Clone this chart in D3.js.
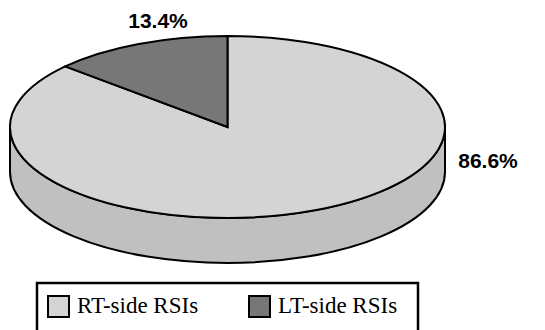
<!DOCTYPE html>
<html>
<head>
<meta charset="utf-8">
<script src="https://cdn.jsdelivr.net/npm/d3@7"></script>
<style>
  html, body { margin: 0; padding: 0; background: #fff; }
  svg { display: block; }
  .val { font-family: "Liberation Sans", Arial, Helvetica, sans-serif; font-weight: bold; font-size: 21px; }
  .leg { font-family: "Liberation Serif", "Times New Roman", Times, serif; font-size: 23px; }
</style>
</head>
<body>
<svg id="chart" width="545" height="330"></svg>
<script>
// Share of RSIs by side
const categories = ["RT-side RSIs", "LT-side RSIs"];
const values = [86.6, 13.4];
const valueLabels = ["86.6%", "13.4%"];

const topColors = ["#d4d4d4", "#777777"];
const sideColors = ["#c0c0c0", "#5e5e5e"];

const W = 545, H = 330;
const cx = 227.5, cy = 127, rx = 217.5, ry = 91, depth = 45;

const svg = d3.select("#chart");

const pie = d3.pie().sort(null).value(d => d.value);
const arcs = pie(categories.map((c, i) => ({ name: c, value: values[i], i })));

// projected point on the elliptical rim (angle 0 at top, clockwise)
const pt = (a, dy = 0) => [cx + rx * Math.sin(a), cy - ry * Math.cos(a) + dy];
const f = p => p[0].toFixed(2) + "," + p[1].toFixed(2);

// side walls: only the front half of the rim (PI/2 .. 3PI/2) is visible
const gSide = svg.append("g");
arcs.forEach(d => {
  const s = Math.max(d.startAngle, Math.PI / 2);
  const e = Math.min(d.endAngle, 3 * Math.PI / 2);
  if (e <= s) return;
  const large = (e - s) > Math.PI ? 1 : 0;
  const p = "M" + f(pt(s)) +
    " A" + rx + "," + ry + " 0 " + large + " 1 " + f(pt(e)) +
    " L" + f(pt(e, depth)) +
    " A" + rx + "," + ry + " 0 " + large + " 0 " + f(pt(s, depth)) + " Z";
  gSide.append("path")
    .attr("d", p)
    .attr("fill", sideColors[d.data.i])
    .attr("stroke", "#000")
    .attr("stroke-width", 2)
    .attr("stroke-linejoin", "round");
});

// top faces
const gTop = svg.append("g");
arcs.forEach(d => {
  const large = (d.endAngle - d.startAngle) > Math.PI ? 1 : 0;
  const p = "M" + f([cx, cy]) + " L" + f(pt(d.startAngle)) +
    " A" + rx + "," + ry + " 0 " + large + " 1 " + f(pt(d.endAngle)) + " Z";
  gTop.append("path")
    .attr("d", p)
    .attr("fill", topColors[d.data.i])
    .attr("stroke", "#000")
    .attr("stroke-width", 2)
    .attr("stroke-linejoin", "miter");
});

// value labels
const labelPos = [[488, 168], [158, 28]];
svg.append("g").selectAll("text")
  .data(arcs)
  .join("text")
  .attr("class", "val")
  .attr("x", d => labelPos[d.data.i][0])
  .attr("y", d => labelPos[d.data.i][1])
  .attr("text-anchor", "middle")
  .attr("fill", "#000")
  .text(d => valueLabels[d.data.i]);

// legend
const legend = svg.append("g");
legend.append("rect")
  .attr("x", 37).attr("y", 283)
  .attr("width", 381).attr("height", 60)
  .attr("fill", "#fff")
  .attr("stroke", "#000")
  .attr("stroke-width", 2.5);

const legendX = [48, 249];
const items = legend.selectAll("g.item")
  .data(categories)
  .join("g")
  .attr("class", "item")
  .attr("transform", (d, i) => `translate(${legendX[i]},296)`);
items.append("rect")
  .attr("width", 21).attr("height", 21)
  .attr("fill", (d, i) => topColors[i])
  .attr("stroke", "#000")
  .attr("stroke-width", 2);
items.append("text")
  .attr("class", "leg")
  .attr("x", 29).attr("y", 17)
  .attr("fill", "#000")
  .text(d => d);
</script>
</body>
</html>
